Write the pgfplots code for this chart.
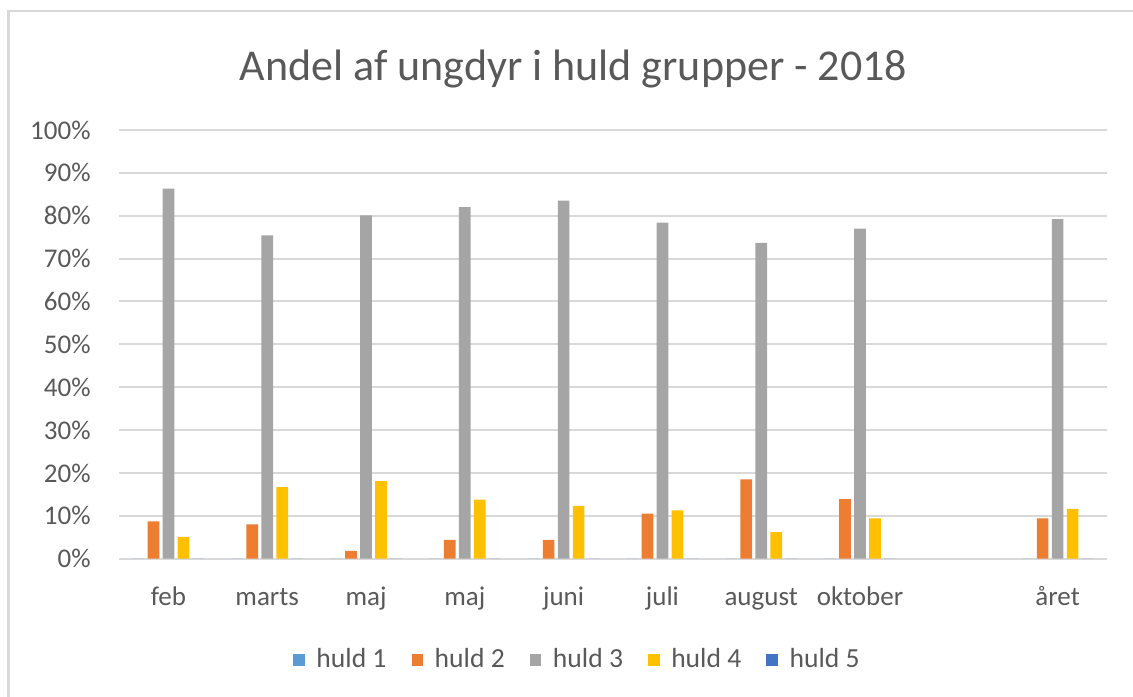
\documentclass[border=0pt]{standalone}
\usepackage{fontspec}
\setmainfont{Carlito}
\usepackage{pgfplots}
\pgfplotsset{compat=1.18}
\definecolor{gridgray}{HTML}{D9D9D9}
\definecolor{textgray}{HTML}{595959}
\definecolor{hA}{HTML}{5B9BD5}
\definecolor{hB}{HTML}{ED7D31}
\definecolor{hC}{HTML}{A5A5A5}
\definecolor{hD}{HTML}{FFC000}
\definecolor{hE}{HTML}{4472C4}
\begin{document}
\begin{tikzpicture}
\useasboundingbox (0,0) rectangle (566.5pt,-348pt);
\draw[gridgray, line width=1.2pt] (4.15pt,-400pt) -- (4.15pt,-5.5pt) -- (620pt,-5.5pt);
\node[anchor=base, text=textgray, font=\fontsize{22}{27}\selectfont, inner sep=0pt] at (286.75pt,-40pt) {Andel af ungdyr i huld grupper - 2018};
\begin{axis}[
  at={(59.5pt,-279.35pt)}, anchor=south west,
  scale only axis, width=494pt, height=214.35pt,
  xmin=-0.5, xmax=9.5, ymin=0, ymax=100,
  ybar=1.65pt, bar width=5.85pt,
  axis line style={draw=none},
  major tick length=0pt,
  ymajorgrids, major grid style={gridgray, line width=1pt},
  xtick={0,...,9},
  xticklabels={feb,marts,maj,maj,juni,juli,august,oktober,{},året},
  ytick={0,10,...,100},
  yticklabels={0\%,10\%,20\%,30\%,40\%,50\%,60\%,70\%,80\%,90\%,100\%},
  tick label style={font=\fontsize{13.5}{16}\selectfont, text=textgray},
  yticklabel style={anchor=east, inner sep=0pt, xshift=-14pt},
  xticklabel style={anchor=base, inner sep=0pt, yshift=-23.5pt},
  legend columns=5,
  legend image code/.code={\fill[#1] (0pt,-2.9pt) rectangle (5.8pt,2.9pt); \path (9.6pt,0pt);},
  legend style={at={(0.465,-0.236)}, anchor=center, draw=none, fill=none,
    font=\fontsize{13.8}{16}\selectfont, text=textgray,
    /tikz/every even column/.append style={column sep=10.5pt}},
  clip=false,
]
\addplot[fill=hA, draw=none] coordinates {(0,0) (1,0) (2,0) (3,0) (4,0) (5,0) (6,0) (7,0) (9,0)};
\addplot[fill=hB, draw=none] coordinates {(0,8.7) (1,8.0) (2,1.8) (3,4.4) (4,4.4) (5,10.5) (6,18.5) (7,13.9) (9,9.4)};
\addplot[fill=hC, draw=none] coordinates {(0,86.3) (1,75.4) (2,80.1) (3,82.0) (4,83.5) (5,78.4) (6,73.7) (7,77.0) (9,79.2)};
\addplot[fill=hD, draw=none] coordinates {(0,5.1) (1,16.7) (2,18.1) (3,13.8) (4,12.3) (5,11.3) (6,6.2) (7,9.4) (9,11.6)};
\addplot[fill=hE, draw=none] coordinates {(0,0) (1,0) (2,0) (3,0) (4,0) (5,0) (6,0) (7,0) (9,0)};
\legend{huld 1, huld 2, huld 3, huld 4, huld 5}
\end{axis}
\end{tikzpicture}
\end{document}
